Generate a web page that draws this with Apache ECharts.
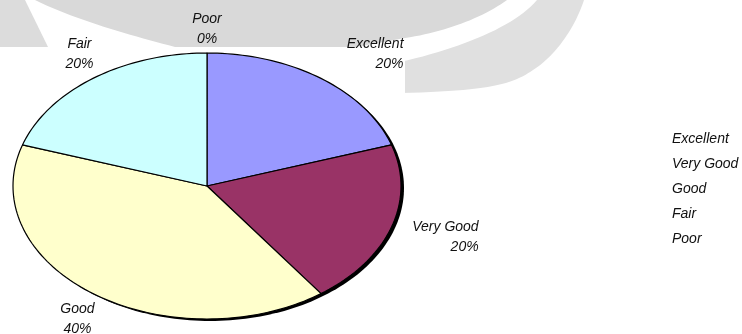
<!DOCTYPE html>
<html><head><meta charset="utf-8">
<script src="https://cdn.jsdelivr.net/npm/echarts@6/dist/echarts.min.js"></script>
<style>html,body{margin:0;padding:0;background:#fff}#c{width:742px;height:334px}</style>
</head><body><div id="c"></div>
<script>
// ---- data ----
const categories = ['Excellent', 'Very Good', 'Good', 'Fair', 'Poor'];
const values = [20, 20, 40, 20, 0];
const colors = ['#9999ff', '#993366', '#ffffcc', '#ccffff', '#ffffff'];

// ---- label placement (styles) ----
const labelPlace = {
  'Excellent': { align: 'right', dx: 54, dy: 3 },
  'Very Good': { align: 'right', dx: 41, dy: 0 },
  'Good': { align: 'center', dx: 13, dy: -1 },
  'Fair': { align: 'center', dx: 15, dy: 3 },
  'Poor': { align: 'center', dx: 0, dy: 9 }
};
const FONT = 'italic 14px "Liberation Sans", Arial, sans-serif';

const total = values.reduce((a, b) => a + b, 0);
const starts = [], ends = [];
let acc = 0;
values.forEach(v => { starts.push(acc / total * 360); acc += v; ends.push(acc / total * 360); });

function arcPoints(api, a0, a1, withCenter, off) {
  const pts = [];
  off = off || [0, 0];
  if (withCenter) { const c = api.coord([0, 0]); pts.push([c[0] + off[0], c[1] + off[1]]); }
  const steps = Math.max(2, Math.ceil((a1 - a0) / 1.5));
  for (let k = 0; k <= steps; k++) {
    const a = (a0 + (a1 - a0) * k / steps) * Math.PI / 180;
    const p = api.coord([Math.sin(a), Math.cos(a)]);
    pts.push([p[0] + off[0], p[1] + off[1]]);
  }
  return pts;
}

// decorative background curves (cubic bezier sampling)
function bez(p0, p1, p2, p3) {
  const out = [];
  for (let k = 0; k <= 24; k++) {
    const t = k / 24, u = 1 - t;
    out.push([u*u*u*p0[0] + 3*u*u*t*p1[0] + 3*u*t*t*p2[0] + t*t*t*p3[0],
              u*u*u*p0[1] + 3*u*u*t*p1[1] + 3*u*t*t*p2[1] + t*t*t*p3[1]]);
  }
  return out;
}
const upperGray = [].concat(
  [[35, 0]],
  bez([507, 0], [482, 18], [445, 32], [405, 38]),
  [[340, 50], [187, 50]],
  bez([187, 50], [140, 38], [80, 22], [35, 0])
);
const swoosh = [].concat(
  bez([584, 0], [576, 25], [557, 55], [533, 70]),
  bez([533, 70], [513, 84], [490, 91], [400, 93]),
  bez([400, 62], [462, 48], [515, 26], [537, 0])
);

const series = [];
// shadow under the ellipse
series.push({
  type: 'custom', name: '_shadow', clip: false, z: 1, silent: true,
  data: [[0, 360]],
  renderItem: function (params, api) {
    return { type: 'polygon', shape: { points: arcPoints(api, api.value(0), api.value(1), false, [3, 2]) },
      style: { fill: '#000' } };
  }
});
categories.forEach((name, i) => {
  series.push({
    type: 'custom', name: name, clip: false, z: 2, silent: true,
    itemStyle: { color: colors[i] },
    data: [[starts[i], ends[i], values[i]]],
    renderItem: function (params, api) {
      const a0 = api.value(0), a1 = api.value(1), v = api.value(2);
      const children = [];
      if (a1 > a0) {
        children.push({ type: 'polygon', shape: { points: arcPoints(api, a0, a1, true) },
          style: { fill: colors[i], stroke: '#000', lineWidth: 1.2, lineJoin: 'round' } });
      }
      const mid = (a0 + a1) / 2 * Math.PI / 180;
      const r = 1.25;
      const p = api.coord([r * Math.sin(mid), r * Math.cos(mid)]);
      const lp = labelPlace[name];
      children.push({ type: 'text', z2: 10,
        style: { text: name + '\n' + Math.round(v / total * 100) + '%', x: p[0] + lp.dx, y: p[1] + lp.dy,
          align: lp.align, verticalAlign: 'middle', font: FONT, lineHeight: 20, fill: '#111' } });
      return { type: 'group', children: children };
    }
  });
});

const chart = echarts.init(document.getElementById('c'), null, { renderer: 'canvas' });
chart.setOption({
  backgroundColor: '#fff',
  animation: false,
  grid: { left: 13, top: 53, width: 388, height: 266 },
  xAxis: { type: 'value', min: -1, max: 1, show: false },
  yAxis: { type: 'value', min: -1, max: 1, show: false },
  legend: {
    orient: 'vertical', left: 662, top: 127, data: categories,
    itemWidth: 0, itemHeight: 14, itemGap: 11, icon: 'rect', selectedMode: false,
    itemStyle: { opacity: 0 },
    textStyle: { fontFamily: '"Liberation Sans", Arial, sans-serif', fontStyle: 'italic', fontSize: 14, color: '#111' }
  },
  graphic: [
    { type: 'polygon', z: -20, silent: true, shape: { points: [[0,0],[25,0],[48,47],[0,47]] }, style: { fill: '#dcdcdc' } },
    { type: 'polygon', z: -20, silent: true, shape: { points: upperGray }, style: { fill: '#d9d9d9' } },
    { type: 'polygon', z: -20, silent: true, shape: { points: swoosh }, style: { fill: '#e0e0e0' } },
    { type: 'rect', z: -10, silent: true, shape: { x: 0, y: 47, width: 405, height: 287 }, style: { fill: '#fff' } }
  ],
  series: series
});
</script>
</body></html>
